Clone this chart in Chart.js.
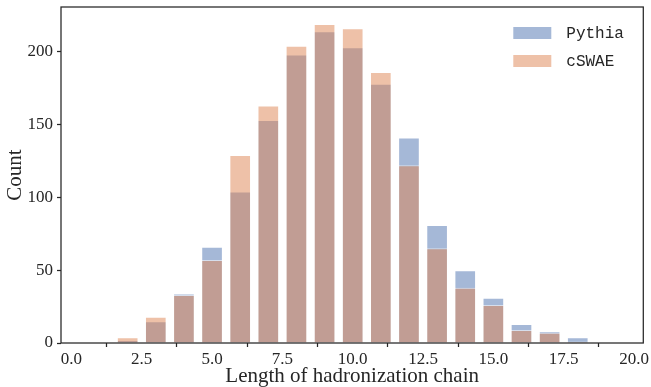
<!DOCTYPE html>
<html>
<head>
<meta charset="utf-8">
<script src="https://cdn.jsdelivr.net/npm/chart.js@4.4.1/dist/chart.umd.min.js"></script>
<style>
  html, body { margin: 0; padding: 0; background: #fff; }
  #wrap { width: 651px; height: 387px; }
</style>
</head>
<body>
<div id="wrap"><canvas id="c" width="651" height="387"></canvas></div>
<script>
// ---- data ----
const chainLengths = [2, 3, 4, 5, 6, 7, 8, 9, 10, 11, 12, 13, 14, 15, 16, 17, 18];
const pythiaCounts = [2, 15, 34, 66, 104, 153, 198, 214, 203, 178, 141, 81, 50, 31, 13, 8, 4];
const cswaeCounts  = [4, 18, 33, 57, 129, 163, 204, 219, 216, 186, 122, 65, 38, 26, 9, 7, 1];
const xTickValues = [0, 2.5, 5, 7.5, 10, 12.5, 15, 17.5, 20];
const yTickValues = [0, 50, 100, 150, 200];
const seriesNames = ['Pythia', 'cSWAE'];

const INK = '#262626';
const blue = 'rgba(76,114,176,0.5)';
const orange = 'rgba(221,132,82,0.5)';

const toPts = (ys) => chainLengths.map((x, i) => ({ x: x, y: ys[i] }));

const framePlugin = {
  id: 'frame',
  afterDraw(chart) {
    const { ctx, chartArea: a } = chart;
    ctx.save();
    ctx.strokeStyle = INK;
    ctx.lineWidth = 1.25;
    ctx.strokeRect(a.left, a.top, a.right - a.left, a.bottom - a.top);
    // legend
    const ds = chart.data.datasets;
    const boxW = 38, boxH = 12;
    const bx = a.right - 130;
    ctx.font = '16px "Liberation Mono", "DejaVu Sans Mono", monospace';
    ctx.textBaseline = 'middle';
    ctx.textAlign = 'left';
    ds.forEach((d, i) => {
      const by = a.top + 20 + i * 28;
      ctx.fillStyle = d.backgroundColor;
      ctx.fillRect(bx, by, boxW, boxH);
      ctx.fillStyle = INK;
      ctx.fillText(d.label, bx + boxW + 15, by + boxH / 2 + 0.5);
    });
    ctx.restore();
  }
};

new Chart(document.getElementById('c'), {
  type: 'bar',
  data: {
    datasets: [
      { label: seriesNames[0], data: toPts(pythiaCounts), backgroundColor: blue,
        borderColor: 'rgba(255,255,255,0.55)', borderWidth: 1, order: 2 },
      { label: seriesNames[1], data: toPts(cswaeCounts), backgroundColor: orange,
        borderColor: 'rgba(255,255,255,0.55)', borderWidth: 1, order: 1 }
    ]
  },
  options: {
    responsive: false,
    animation: false,
    devicePixelRatio: 1,
    layout: { padding: { top: 0, right: 7, left: 0, bottom: 0 } },
    datasets: { bar: { grouped: false, categoryPercentage: 1, barPercentage: 0.77 } },
    plugins: { legend: { display: false }, tooltip: { enabled: false } },
    scales: {
      x: {
        type: 'linear',
        min: -0.37,
        max: 20.33,
        offset: false,
        afterFit(s) { s.height = 44; s.paddingTop = 0; },
        afterBuildTicks(s) { s.ticks = xTickValues.map(v => ({ value: v })); },
        grid: { display: true, drawOnChartArea: false, drawTicks: true, tickLength: 4, tickColor: INK, tickWidth: 1.25 },
        border: { display: false },
        ticks: {
          color: INK, padding: 2, maxRotation: 0, autoSkip: false,
          font: { family: '"Liberation Serif", "DejaVu Serif", serif', size: 17 },
          callback: (v) => Number(v).toFixed(1)
        },
        title: {
          display: true, text: 'Length of hadronization chain', color: INK,
          font: { family: '"Liberation Serif", "DejaVu Serif", serif', size: 21, lineHeight: 1 },
          padding: { top: 0, bottom: 0 }
        }
      },
      y: {
        type: 'linear',
        min: 0,
        max: 230.6,
        afterFit(s) { s.width = 61; s.paddingTop = 7; s.paddingBottom = 0; },
        afterBuildTicks(s) { s.ticks = yTickValues.map(v => ({ value: v })); },
        grid: { display: true, drawOnChartArea: false, drawTicks: true, tickLength: 4, tickColor: INK, tickWidth: 1.25 },
        border: { display: false },
        ticks: {
          color: INK, padding: 4,
          font: { family: '"Liberation Serif", "DejaVu Serif", serif', size: 17 },
          callback: (v) => String(v)
        },
        title: {
          display: true, text: 'Count', color: INK,
          font: { family: '"Liberation Serif", "DejaVu Serif", serif', size: 21, lineHeight: 1.2 },
          padding: { top: 3, bottom: 0 }
        }
      }
    }
  },
  plugins: [framePlugin]
});
</script>
</body>
</html>
